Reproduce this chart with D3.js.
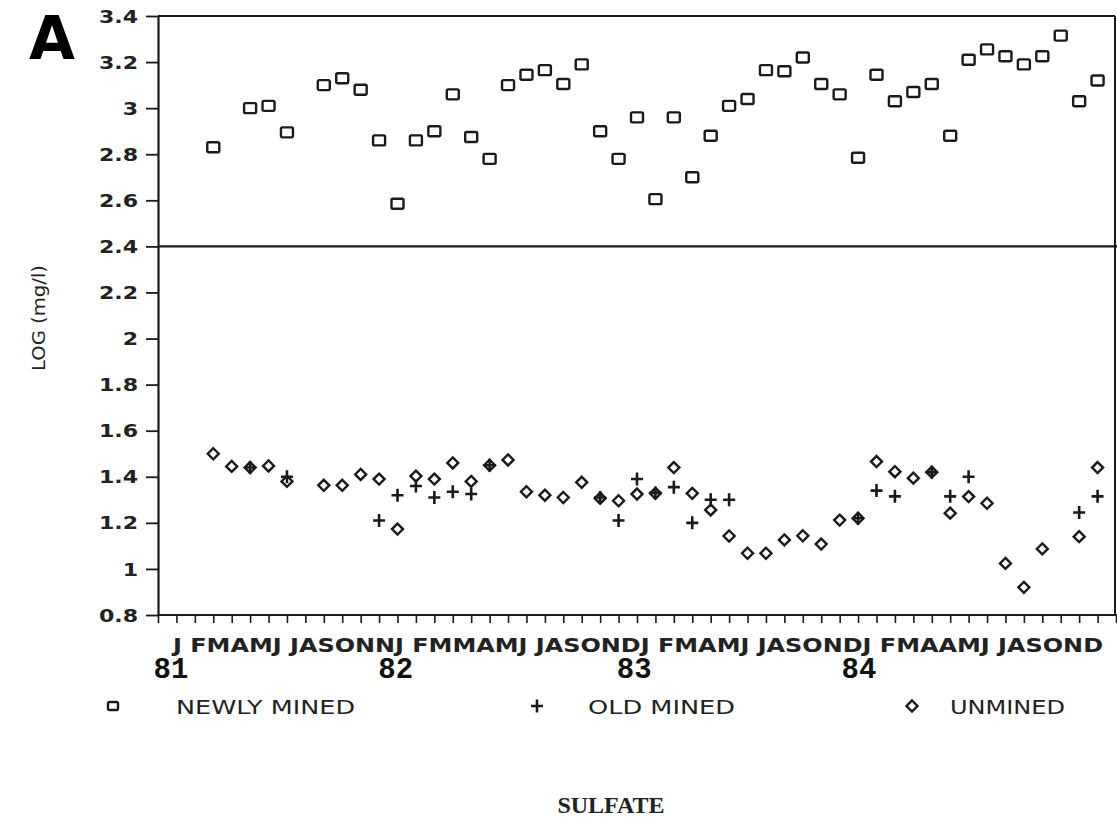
<!DOCTYPE html>
<html>
<head>
<meta charset="utf-8">
<script src="https://cdn.jsdelivr.net/npm/d3@7"></script>
<style>
  html, body { margin: 0; padding: 0; background: #fff; }
  svg { display: block; }
</style>
</head>
<body>
<svg id="chart" width="1117" height="818"></svg>
<script>
// ---- data (index = month slot, 0 = Feb 1981 sample) ----
const newlyMined = [2.83, null, 3.00, 3.01, 2.895, null, 3.10, 3.13, 3.08, 2.86,
  2.585, 2.86, 2.90, 3.06, 2.875, 2.78, 3.10, 3.145, 3.165, 3.105,
  3.19, 2.90, 2.78, 2.96, 2.605, 2.96, 2.70, 2.88, 3.01, 3.04,
  3.165, 3.16, 3.22, 3.105, 3.06, 2.785, 3.145, 3.03, 3.07, 3.105,
  2.88, 3.21, 3.255, 3.225, 3.19, 3.225, 3.315, 3.03, 3.12];
const oldMined = [null, null, 1.44, null, 1.40, null, null, null, null, 1.21,
  1.32, 1.36, 1.31, 1.335, 1.325, 1.45, null, null, null, null,
  null, 1.31, 1.21, 1.39, 1.33, 1.355, 1.20, 1.30, 1.30, null,
  null, null, null, null, null, 1.22, 1.34, 1.315, null, 1.42,
  1.315, 1.40, null, null, null, null, null, 1.245, 1.315];
const unmined = [1.50, 1.445, 1.44, 1.447, 1.38, null, 1.363, 1.363, 1.41, 1.39,
  1.173, 1.403, 1.39, 1.46, 1.38, 1.45, 1.473, 1.335, 1.32, 1.31,
  1.376, 1.307, 1.296, 1.325, 1.328, 1.44, 1.328, 1.256, 1.143, 1.068,
  1.068, 1.126, 1.144, 1.108, 1.212, 1.22, 1.466, 1.422, 1.394, 1.42,
  1.242, 1.314, 1.285, 1.024, 0.92, 1.087, null, 1.14, 1.44];

const yTicks = [3.4, 3.2, 3.0, 2.8, 2.6, 2.4, 2.2, 2.0, 1.8, 1.6, 1.4, 1.2, 1.0, 0.8];
const xTicks = d3.range(-3, 50);
const monthGroups = ["J FMAMJ JASONN", "J FMMAMJ JASOND", "J FMAMJ JASOND", "J FMAAMJ JASOND"];
const yearLabels = ["81", "82", "83", "84"];
const yearAt = [-2.3, 9.9, 22.85, 35.05];
const legendLabels = ["NEWLY MINED", "OLD MINED", "UNMINED"];
const splitValue = 2.4;

// ---- layout ----
const svg = d3.select("#chart");
const x = d3.scaleLinear().domain([-3, 49]).range([158, 1116]);
const y = d3.scaleLinear().domain([0.8, 3.4]).range([615, 16]);
const ink = "#1a1a1a";
const plotFont = "'DejaVu Sans', 'Liberation Sans', sans-serif";

// frame lines
svg.append("line").attr("x1", x(-3)).attr("x2", 1115).attr("y1", y(3.4)).attr("y2", y(3.4))
  .attr("stroke", ink).attr("stroke-width", 2);
svg.append("line").attr("x1", 1115).attr("x2", 1115).attr("y1", y(3.4)).attr("y2", y(0.8))
  .attr("stroke", ink).attr("stroke-width", 2);
svg.append("line").attr("x1", x(-3)).attr("x2", 1117).attr("y1", y(splitValue)).attr("y2", y(splitValue))
  .attr("stroke", ink).attr("stroke-width", 2.2);

// y axis
const yAxis = svg.append("g").attr("transform", `translate(${x(-3)},0)`)
  .call(d3.axisLeft(y).tickValues(yTicks).tickSize(12).tickSizeOuter(0).tickPadding(8)
    .tickFormat(d => String(+d.toFixed(1))));
yAxis.select(".domain").attr("stroke", ink).attr("stroke-width", 2.2);
yAxis.selectAll(".tick line").attr("stroke", ink).attr("stroke-width", 1.8);
yAxis.selectAll(".tick text")
  .attr("font-family", plotFont).attr("font-size", 17).attr("font-weight", "bold")
  .attr("fill", "#222")
  .attr("transform", "scale(1.3,1)")
  .attr("x", -20 / 1.3).attr("dy", "0.36em");

// x axis
const xAxis = svg.append("g").attr("transform", `translate(0,${y(0.8)})`)
  .call(d3.axisBottom(x).tickValues(xTicks).tickSize(8).tickSizeOuter(0).tickFormat(""));
xAxis.select(".domain").attr("stroke", ink).attr("stroke-width", 2.2)
  .attr("d", `M${x(-3)},0H1117`);
xAxis.selectAll(".tick line").attr("stroke", ink).attr("stroke-width", 1.6);

// month labels
svg.append("text")
  .attr("x", 173).attr("y", 652)
  .attr("textLength", 930).attr("lengthAdjust", "spacingAndGlyphs")
  .attr("font-family", plotFont).attr("font-size", 20).attr("font-weight", "bold")
  .attr("fill", "#222").attr("xml:space", "preserve")
  .text(monthGroups.join(""));

// year labels
svg.selectAll("text.year").data(yearLabels).join("text")
  .attr("class", "year")
  .attr("x", (d, i) => x(yearAt[i])).attr("y", 678)
  .attr("text-anchor", "middle")
  .attr("font-family", "'Liberation Mono', 'DejaVu Sans Mono', monospace")
  .attr("font-size", 29).attr("font-weight", "bold").attr("fill", "#111")
  .text(d => d);

// marker shapes
function drawSquare(sel) {
  sel.append("rect").attr("x", -6).attr("y", -5).attr("width", 12).attr("height", 10).attr("rx", 1.5)
    .attr("fill", "none").attr("stroke", ink).attr("stroke-width", 2.4);
}
function drawPlus(sel) {
  sel.append("path").attr("d", "M-6,0H6M0,-6.5V6.5")
    .attr("fill", "none").attr("stroke", ink).attr("stroke-width", 2.6);
}
function drawDiamond(sel) {
  sel.append("path").attr("d", "M0,-5.5L5.5,0L0,5.5L-5.5,0Z")
    .attr("fill", "none").attr("stroke", ink).attr("stroke-width", 2.4);
}

function plotSeries(values, drawer, cls) {
  const pts = values.map((v, i) => ({ i, v })).filter(d => d.v != null);
  svg.selectAll("g." + cls).data(pts).join("g")
    .attr("class", cls)
    .attr("transform", d => `translate(${x(d.i)},${y(d.v)})`)
    .call(drawer);
}
plotSeries(newlyMined, drawSquare, "nm");
plotSeries(unmined, drawDiamond, "um");
plotSeries(oldMined, drawPlus, "om");

// legend
const legendX = [113, 537, 912];
const legendTextX = [176, 588, 950];
const legendTextW = [179, 147, 115];
const legendDrawers = [drawSquare, drawPlus, drawDiamond];
legendLabels.forEach((lab, i) => {
  const g = svg.append("g").attr("transform", `translate(${legendX[i]},706)`);
  g.call(legendDrawers[i]);
  if (i === 0) g.select("rect").attr("x", -5).attr("y", -4).attr("width", 10).attr("height", 8);
  svg.append("text")
    .attr("x", legendTextX[i]).attr("y", 714)
    .attr("textLength", legendTextW[i]).attr("lengthAdjust", "spacingAndGlyphs")
    .attr("font-family", plotFont).attr("font-size", 20)
    .attr("fill", "#222")
    .text(lab);
});

// y axis title
svg.append("text")
  .attr("transform", "translate(45,318) rotate(-90)")
  .attr("text-anchor", "middle")
  .attr("textLength", 106).attr("lengthAdjust", "spacingAndGlyphs")
  .attr("font-family", plotFont).attr("font-size", 18)
  .attr("fill", "#222")
  .text("LOG (mg/l)");

// panel letter
svg.append("text")
  .attr("x", 29).attr("y", 59)
  .attr("textLength", 46).attr("lengthAdjust", "spacingAndGlyphs")
  .attr("font-family", "'DejaVu Sans', sans-serif").attr("font-size", 60).attr("font-weight", "900")
  .attr("fill", "#000")
  .text("A");

// bottom title
svg.append("text")
  .attr("x", 611).attr("y", 813)
  .attr("text-anchor", "middle")
  .attr("font-family", "'Liberation Serif', 'DejaVu Serif', serif")
  .attr("font-size", 24).attr("font-weight", "bold")
  .attr("fill", "#222")
  .text("SULFATE");
</script>
</body>
</html>
